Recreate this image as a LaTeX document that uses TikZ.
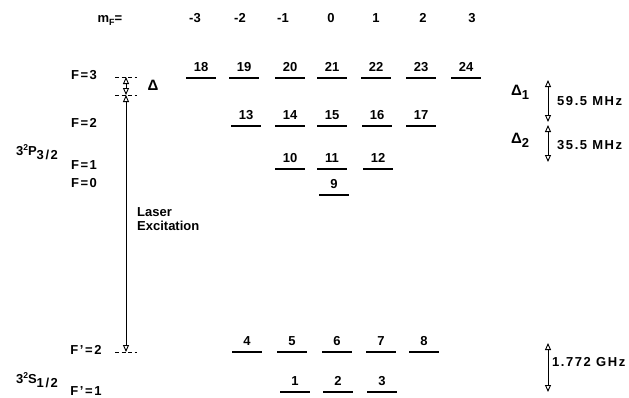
\documentclass[tikz,border=0pt]{standalone}
\usepackage{fontspec}
\setmainfont{Liberation Sans}
\usetikzlibrary{arrows.meta}
\newcommand{\lowr}[1]{\raisebox{-4pt}{#1}}
\newcommand{\highr}[1]{\raisebox{5pt}{\fontsize{8.5}{9}\selectfont #1}}

\begin{document}
\begin{tikzpicture}[
  x=1pt, y=-1pt,
  font=\fontsize{13}{14}\selectfont\bfseries,
  lev/.style={inner sep=0pt, text depth=0pt, minimum width=29pt, anchor=south, yshift=6pt,
              append after command={([yshift=-6pt]\tikzlastnode.south west) edge[line width=1.2pt]
                                    ([yshift=-6pt]\tikzlastnode.south east)}},
  flab/.style={inner sep=0pt},
  wide/.style={inner sep=0pt, font=\fontsize{13}{14}\selectfont\bfseries\addfontfeature{LetterSpace=12}},
  big/.style={inner sep=0pt, font=\fontsize{15}{16}\selectfont\bfseries},
  dlev/.style={dash pattern=on 4pt off 2.5pt, line width=0.8pt},
  dar/.style={{Triangle[open, length=7pt, width=6pt]}-{Triangle[open, length=7pt, width=6pt]}, line width=0.9pt},
]
\useasboundingbox (0,0) rectangle (629,397);

% ===================== m_F header =====================
\node[flab] (mfh) at (110,20) {m\raisebox{-3pt}{\fontsize{9}{9}\selectfont F}=};
\node[flab] (ma) at (195,18) {-3}; \node[flab] (mb) at (240,18) {-2};
\node[flab] (mc) at (283,18) {-1}; \node[flab] (md) at (331,18) {0};
\node[flab] (me) at (376,18) {1};  \node[flab] (mf) at (423,18) {2};
\node[flab] (mg) at (472,18) {3};

% ===================== 3^2P_3/2 =====================
\node[wide] (tp) at (37,152) {3\highr{2}P\lowr{3/2}};
\node[wide] (f3) at (84,75) {F=3};
\node[wide] (f2) at (84,123) {F=2};
\node[wide] (f1) at (84,165) {F=1};
\node[wide] (f0) at (84,183) {F=0};

\node[lev] (l18) at (201,78) {18}; \node[lev] (l19) at (244,78) {19};
\node[lev] (l20) at (290,78) {20}; \node[lev] (l21) at (332,78) {21};
\node[lev] (l22) at (376,78) {22}; \node[lev] (l23) at (421,78) {23};
\node[lev] (l24) at (466,78) {24};

\node[lev] (l13) at (246,126) {13}; \node[lev] (l14) at (290,126) {14};
\node[lev] (l15) at (332,126) {15}; \node[lev] (l16) at (377,126) {16};
\node[lev] (l17) at (421,126) {17};

\node[lev] (l10) at (290,169) {10}; \node[lev] (l11) at (332,169) {11};
\node[lev] (l12) at (378,169) {12};
\node[lev] (l9) at (334,195) {9};

% ===================== 3^2S_1/2 =====================
\node[wide] (ts) at (37,380) {3\highr{2}S\lowr{1/2}};
\node[wide] (g2) at (86,350) {F'=2};
\node[wide] (g1) at (86,391) {F'=1};

\node[lev] (l4) at (247,352) {4}; \node[lev] (l5) at (292,352) {5};
\node[lev] (l6) at (337,352) {6}; \node[lev] (l7) at (381,352) {7};
\node[lev] (l8) at (424,352) {8};
\node[lev] (l1) at (295,392) {1}; \node[lev] (l2) at (338,392) {2};
\node[lev] (l3) at (382,392) {3};

% ===================== laser excitation =====================
\coordinate (vtop) at (126,77);
\coordinate (vmid) at (126,95);
\coordinate (vgnd) at (126,352);
\draw[dlev] ([xshift=-11pt]vtop) -- ([xshift=11pt]vtop);
\draw[dlev] ([xshift=-11pt]vmid) -- ([xshift=11pt]vmid);
\draw[dlev] ([xshift=-11pt]vgnd) -- ([xshift=11pt]vgnd);
\draw[dar] (vtop) -- (vmid);
\draw[dar] (vmid) -- (vgnd);
\node[big] (dl) at (153,85) {Δ};
\node[flab, anchor=north west, align=left] (lx) at (137,207) {Laser\\Excitation};

% ===================== splittings =====================
\coordinate (s1a) at (548,80);  \coordinate (s1b) at (548,122);
\coordinate (s2a) at (548,125); \coordinate (s2b) at (548,162);
\coordinate (s3a) at (548,343); \coordinate (s3b) at (548,392);
\draw[dar] (s1a) -- (s1b);
\draw[dar] (s2a) -- (s2b);
\draw[dar] (s3a) -- (s3b);
\node[big] (d1) at (520,92) {Δ\lowr{\fontsize{13}{14}\selectfont 1}};
\node[big] (d2) at (520,140) {Δ\lowr{\fontsize{13}{14}\selectfont 2}};
\node[wide, anchor=west] (h1) at (557,101) {59.5 MHz};
\node[wide, anchor=west] (h2) at (557,145) {35.5 MHz};
\node[wide, anchor=west] (h3) at (552,362) {1.772 GHz};
\end{tikzpicture}
\end{document}
